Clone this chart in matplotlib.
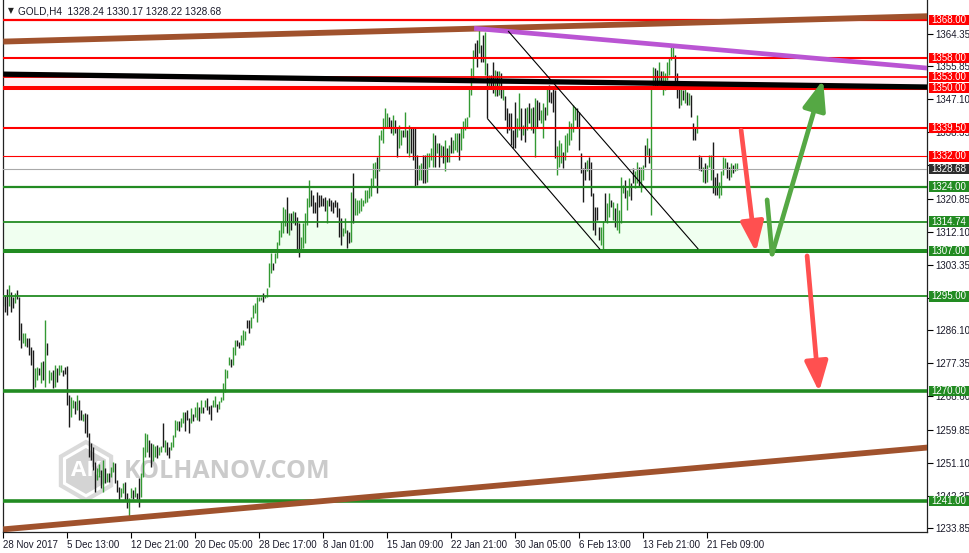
import matplotlib
matplotlib.use('Agg')
import matplotlib.pyplot as plt
from matplotlib.patches import Rectangle, Polygon
from matplotlib.transforms import blended_transform_factory
import numpy as np

plt.rcParams['font.family'] = ['Liberation Sans', 'DejaVu Sans']

# ---- data (GOLD, H4 bars) ----
bar_high = [
    1295.5, 1295.0, 1297.0, 1298.0, 1296.2, 1294.9, 1296.0, 1296.6, 1294.9, 1288.0,
    1285.3, 1285.3, 1284.0, 1284.0, 1281.7, 1280.9, 1276.1, 1276.4, 1276.0, 1277.7,
    1278.0, 1288.8, 1282.7, 1275.6, 1275.0, 1275.6, 1277.0, 1276.2, 1277.0, 1276.8,
    1275.6, 1276.4, 1276.6, 1269.0, 1268.5, 1267.7, 1267.5, 1269.0, 1267.7, 1265.0,
    1264.0, 1264.2, 1264.0, 1258.9, 1256.3, 1255.2, 1251.3, 1249.7, 1250.8, 1249.2,
    1251.8, 1249.7, 1248.3, 1248.3, 1250.0, 1251.3, 1251.0, 1246.5, 1244.7, 1244.4,
    1245.7, 1246.0, 1243.1, 1241.8, 1244.4, 1244.0, 1244.7, 1243.0, 1247.0, 1248.4,
    1255.2, 1258.9, 1258.6, 1257.1, 1256.3, 1256.0, 1255.6, 1255.8, 1255.2, 1255.6,
    1261.6, 1257.0, 1256.5, 1255.2, 1256.5, 1258.4, 1262.4, 1262.0, 1262.0, 1262.9,
    1264.5, 1264.5, 1265.0, 1262.9,
    1265.5, 1264.0, 1265.8, 1267.0, 1265.8, 1267.7, 1265.8, 1267.7, 1268.2, 1266.0,
    1266.3, 1267.7, 1268.7, 1266.5, 1267.5, 1268.4, 1272.1, 1275.8, 1275.5, 1279.0,
    1278.5, 1281.7, 1283.5, 1283.5, 1283.0, 1284.8, 1286.1, 1286.0, 1288.8, 1288.8,
    1289.6, 1292.7, 1293.3, 1294.9, 1294.9, 1294.8, 1295.9, 1295.5, 1297.2, 1303.8,
    1306.5, 1303.8, 1306.5, 1309.4, 1312.5, 1314.7, 1318.6, 1318.0, 1321.3, 1317.0,
    1317.0, 1317.5, 1317.2, 1316.0, 1314.4, 1310.7, 1314.4, 1317.0, 1321.0, 1325.7,
    1323.0, 1321.8, 1320.0, 1322.6, 1321.8, 1321.8, 1321.0, 1321.3, 1320.5, 1321.0,
    1320.5, 1320.0, 1320.5, 1320.0, 1318.4, 1315.7, 1313.0, 1315.7, 1312.5, 1312.0,
    1322.6, 1327.6, 1321.0, 1320.5, 1320.5, 1321.0, 1320.5, 1323.1, 1323.0, 1323.9,
    1326.2, 1330.2, 1330.6, 1331.9, 1337.6, 1339.0, 1342.0, 1344.7, 1343.4, 1342.5,
    1341.6, 1342.9, 1341.6, 1339.8, 1340.3, 1339.0, 1339.0, 1343.8, 1339.0, 1340.3,
    1339.8, 1339.4, 1339.4, 1332.4, 1329.7, 1330.2, 1332.4, 1332.4, 1332.8, 1332.8,
    1334.1, 1338.1, 1337.6, 1335.4, 1335.4, 1335.0, 1334.6, 1336.3, 1334.1, 1335.0,
    1337.2, 1336.3, 1338.1, 1338.1, 1338.1, 1339.4, 1341.2, 1342.0, 1342.5, 1350.4,
    1355.2, 1360.1, 1361.8, 1362.7, 1365.8, 1361.4, 1364.0, 1364.9, 1356.6, 1353.5,
    1353.5, 1357.0, 1354.8, 1354.4, 1354.4, 1353.9, 1350.4, 1347.8, 1344.7, 1343.4,
    1343.4, 1339.0, 1346.4, 1342.0, 1348.6, 1344.7, 1340.3, 1344.7, 1345.1, 1346.0,
    1344.7, 1345.1, 1347.3, 1346.9, 1346.4, 1344.2, 1346.0, 1345.1, 1350.4, 1350.8,
    1349.1, 1350.4, 1349.5, 1334.6, 1336.3,
    1335.4, 1333.2, 1337.6, 1338.1, 1341.2, 1340.7, 1345.6, 1345.1, 1344.7, 1343.8,
    1332.8, 1328.8, 1330.6, 1331.0, 1331.9, 1330.6, 1322.2, 1318.7, 1318.7, 1313.4,
    1313.4, 1314.8, 1322.2, 1319.6, 1322.2, 1320.5, 1320.0, 1318.3, 1319.6, 1317.8,
    1326.6, 1324.4, 1325.8, 1323.1, 1326.2, 1324.9, 1328.8, 1328.0, 1330.6, 1329.3,
    1329.3, 1329.7, 1335.0, 1336.8, 1334.1, 1350.4, 1355.7, 1355.2, 1354.8, 1357.0,
    1354.4, 1354.4, 1353.9, 1357.0, 1357.9, 1361.0, 1361.4, 1358.8, 1353.9, 1350.0,
    1351.3, 1349.5, 1350.0, 1349.1, 1348.6, 1348.2, 1340.7, 1339.8, 1342.9, 1332.4,
    1331.9, 1329.3, 1330.2, 1329.7, 1332.4, 1332.4, 1335.9, 1326.6, 1327.5, 1325.3,
    1328.0, 1331.9, 1331.5, 1330.6, 1329.3, 1330.2, 1329.7, 1330.2, 1330.2,
]
bar_low = [
    1292.5, 1291.0, 1290.0, 1292.5, 1290.8, 1291.9, 1293.3, 1294.4, 1283.5, 1281.4,
    1282.7, 1282.0, 1281.7, 1279.5, 1276.9, 1270.3, 1271.1, 1272.9, 1274.3, 1272.1,
    1273.0, 1271.1, 1279.5, 1272.1, 1273.0, 1270.8, 1271.0, 1272.3, 1274.3, 1275.0,
    1274.0, 1274.5, 1266.3, 1260.5, 1263.2, 1265.6, 1264.0, 1265.0, 1262.4, 1262.4,
    1262.0, 1258.9, 1257.9, 1252.6, 1251.8, 1249.2, 1243.4, 1246.5, 1247.2, 1244.4,
    1243.4, 1245.7, 1246.0, 1246.0, 1247.2, 1248.7, 1245.7, 1243.4, 1241.3, 1242.0,
    1243.1, 1241.3, 1239.1, 1236.0, 1241.8, 1241.5, 1242.1, 1241.5, 1239.4, 1242.1,
    1247.2, 1252.6, 1254.0, 1252.6, 1250.0, 1251.5, 1252.6, 1252.3, 1253.2, 1254.0,
    1255.2, 1254.0, 1253.2, 1252.3, 1254.5, 1255.2, 1257.9, 1259.7, 1259.4, 1260.5,
    1261.6, 1259.4, 1262.4, 1258.9,
    1261.6, 1262.0, 1263.2, 1262.4, 1262.0, 1264.2, 1264.2, 1265.8, 1265.0, 1264.0,
    1262.4, 1265.8, 1265.8, 1264.5, 1265.3, 1267.0, 1267.7, 1269.8, 1273.5, 1276.9,
    1276.4, 1276.9, 1279.5, 1282.0, 1281.3, 1282.2, 1282.2, 1283.5, 1286.7, 1285.3,
    1286.7, 1289.3, 1290.6, 1288.3, 1293.7, 1294.0, 1293.6, 1294.6, 1294.9, 1297.5,
    1301.2, 1302.0, 1303.8, 1305.2, 1308.6, 1310.7, 1311.8, 1313.5, 1311.8, 1311.2,
    1312.5, 1314.5, 1313.8, 1307.3, 1305.4, 1306.8, 1307.8, 1309.1, 1313.9, 1318.6,
    1319.0, 1317.0, 1317.0, 1313.3, 1318.6, 1319.0, 1319.0, 1317.5, 1314.4, 1319.0,
    1317.5, 1317.0, 1318.5, 1316.0, 1310.7, 1308.6, 1311.0, 1311.8, 1307.8, 1309.2,
    1309.4, 1314.4, 1316.5, 1316.5, 1317.0, 1317.5, 1319.0, 1319.7, 1320.0, 1321.0,
    1321.4, 1324.0, 1326.2, 1322.2, 1328.0, 1336.3, 1335.4, 1339.8, 1339.4, 1339.8,
    1338.1, 1337.6, 1338.1, 1331.9, 1334.1, 1335.0, 1337.2, 1337.2, 1332.8, 1331.9,
    1332.8, 1331.0, 1324.0, 1324.4, 1325.8, 1325.8, 1324.9, 1324.9, 1325.3, 1329.3,
    1331.0, 1329.3, 1329.3, 1332.8, 1329.3, 1331.9, 1330.2, 1328.0, 1330.6, 1330.6,
    1332.8, 1332.8, 1333.7, 1333.2, 1331.0, 1333.7, 1336.8, 1339.0, 1339.4, 1342.5,
    1348.2, 1351.7, 1357.9, 1355.7, 1359.2, 1357.0, 1357.0, 1353.5, 1342.0, 1350.4,
    1350.0, 1348.6, 1347.8, 1347.8, 1348.2, 1347.3, 1346.9, 1341.6, 1338.1, 1339.0,
    1335.0, 1334.1, 1334.1, 1337.2, 1339.0, 1336.3, 1337.6, 1335.9, 1339.0, 1340.7,
    1339.0, 1338.1, 1331.9, 1339.8, 1341.6, 1340.7, 1336.8, 1341.6, 1342.9, 1346.4,
    1346.0, 1343.8, 1331.5, 1327.1, 1329.3,
    1330.2, 1328.8, 1331.0, 1333.2, 1335.0, 1336.3, 1338.5, 1341.6, 1339.8, 1333.7,
    1327.5, 1320.0, 1325.8, 1328.0, 1325.8, 1321.4, 1312.6, 1311.2, 1315.2, 1309.9,
    1308.6, 1307.3, 1314.8, 1314.3, 1316.1, 1318.7, 1315.2, 1313.4, 1312.6, 1311.7,
    1314.3, 1322.2, 1320.9, 1317.8, 1321.4, 1320.5, 1324.9, 1323.6, 1324.9, 1324.0,
    1322.7, 1325.8, 1329.3, 1332.4, 1330.2, 1316.5, 1350.4, 1350.0, 1350.0, 1351.3,
    1351.3, 1348.2, 1349.5, 1352.2, 1353.5, 1357.4, 1357.9, 1351.3, 1347.3, 1344.7,
    1345.6, 1346.9, 1346.0, 1345.6, 1345.6, 1342.5, 1336.3, 1336.3, 1338.1, 1328.4,
    1328.0, 1325.3, 1324.9, 1325.3, 1329.3, 1325.8, 1322.2, 1321.8, 1321.8, 1320.9,
    1321.8, 1327.1, 1328.8, 1326.2, 1325.8, 1326.6, 1327.5, 1328.0, 1328.4,
]
# g = bull bar, k = bear bar
bar_dir = ''.join([
    "gkkgkkgkkk", "ggkkkkggkg", "kgkggkgkgg", "kkkkggkgkk", "gkkkkkkggk",
    "gkgkggkkkg", "gkkggkgkkg", "gggkkggkgg", "kgkkggggkg", "gkkk",
    "gkggkgkgkk", "kggkgggggg", "kggkkgggkk", "ggggggkggg", "gkggggggkg",
    "kgkkkggggg", "kkkkkkkkgk", "kkkkkkggkk", "gkgggggggg",
    "gggkgggggk", "kgkkggkgkg", "kkkkggkkgg", "ggkgkgkgkg", "kgggkggggg",
    "ggkkgkkgkg", "kkgkgkgkkk", "kkkggkgkgk", "gkgkkggkgk", "kkkgg",
    "gkggggggkk", "kkkgkkkkkk", "ggkggkgkgg", "ggkggkkggk", "ggkgkggkkg",
    "kggggggkkk", "gkgkgkkkgk", "kgkgggkkkg", "gggkkgkgg",
])

date_labels = ['28 Nov 2017', '5 Dec 13:00', '12 Dec 21:00', '20 Dec 05:00',
               '28 Dec 17:00', '8 Jan 01:00', '15 Jan 09:00', '22 Jan 21:00',
               '30 Jan 05:00', '6 Feb 13:00', '13 Feb 21:00', '21 Feb 09:00']
date_ticks = [0, 32, 64, 96, 128, 160, 192, 224, 256, 288, 320, 352]

price_ticks = [1364.35, 1355.85, 1347.10, 1338.35, 1329.60, 1320.85, 1312.10, 1303.35,
               1294.60, 1286.10, 1277.35, 1268.60, 1259.85, 1251.10, 1242.35, 1233.85]
# these two scale values sit fully under the level tags in the reference
hidden_ticks = [1329.60, 1294.60]

resistance_levels = [1368.00, 1358.00, 1353.00, 1350.00, 1339.50, 1332.00]
support_levels = [1324.00, 1314.74, 1307.00, 1295.00, 1270.00, 1241.00]
last_price = 1328.68
support_zone = (1307.00, 1314.74)
resistance_zone = (1350.00, 1353.00)

# trend lines: (bar, price) end points
upper_trend = [(0, 1362.3), (462, 1369.0)]
lower_trend = [(0, 1233.5), (462, 1255.1)]
black_trend = [(0, 1353.7), (462, 1350.3)]
purple_trend = [(235.4, 1365.8), (462, 1355.3)]
channel_top = [(252.4, 1365.1), (347.5, 1307.5)]
channel_bottom = [(242.0, 1342.0), (298.4, 1307.4)]

# projected moves
red_arrow_1 = [(368.9, 1338.9), (376.3, 1306.7)]
green_path = [(381.9, 1320.5), (384.4, 1306.2), (409.9, 1352.2)]
red_arrow_2 = [(401.9, 1305.7), (407.9, 1269.8)]

# ---- figure ----
W, H = 970, 553
fig = plt.figure(figsize=(W / 100, H / 100), dpi=100)
ax = fig.add_axes([3 / W, 21 / H, 924 / W, 532 / H])
ax.set_xlim(-0.15, 461.85)
ax.set_ylim(1232.8, 1373.28)

RED = '#FF0000'
GREEN = '#228B22'

ax.axhspan(*support_zone, color='#F0FFF0', lw=0, zorder=0.2)
ax.axhspan(*resistance_zone, color='#FFF0F5', lw=0, zorder=0.2)

# watermark
hx, hy = 86, 471
ang = np.deg2rad(90 + 60 * np.arange(6))
outer = np.column_stack([(hx + 29 * np.cos(ang)) / W, 1 - (hy - 29 * np.sin(ang)) / H])
inner = np.column_stack([(hx + 23 * np.cos(ang)) / W, 1 - (hy - 23 * np.sin(ang)) / H])
ax.add_patch(Polygon(outer, closed=True, fill=False, ec='#DADADA', lw=3,
                     transform=fig.transFigure, zorder=0.3))
ax.add_patch(Polygon(inner, closed=True, fc='#D4D4D4', ec='none',
                     transform=fig.transFigure, zorder=0.3))
ax.text(hx / W, 1 - hy / H, 'AK', transform=fig.transFigure, color='white',
        fontsize=16, fontweight='bold', family='Open Sans', ha='center', va='center', zorder=0.4)
ax.text(124 / W, 1 - 471 / H, 'KOLHANOV.COM', transform=fig.transFigure, color='#CBCBCB',
        fontsize=18, fontweight='bold', family='Open Sans', ha='left', va='center', zorder=0.4)

# bars
hi = np.array(bar_high)
lo = np.array(bar_low)
x = np.arange(len(hi))
up = np.array([c == 'g' for c in bar_dir[:len(hi)]])
ax.vlines(x[up], lo[up], hi[up], color='#339933', lw=1.0, zorder=2)
ax.vlines(x[~up], lo[~up], hi[~up], color='#1A1A1A', lw=1.0, zorder=2)

# horizontal levels
res_width = {1368.00: 1.6, 1358.00: 1.5, 1353.00: 1.3, 1350.00: 2.9, 1339.50: 1.5, 1332.00: 0.8}
sup_width = {1324.00: 1.6, 1314.74: 1.3, 1307.00: 2.9, 1295.00: 1.3, 1270.00: 2.6, 1241.00: 2.6}
for p in resistance_levels:
    ax.axhline(p, color=RED, lw=res_width[p], zorder=3)
for p in support_levels:
    ax.axhline(p, color=GREEN, lw=sup_width[p], zorder=3)
ax.axhline(last_price, color='#A9A9A9', lw=0.8, zorder=3)

# trend lines
def seg(pts, **kw):
    xs, ys = zip(*pts)
    ax.plot(xs, ys, solid_capstyle='butt', **kw)

seg(upper_trend, color='#A0522D', lw=4.2, zorder=3.5)
seg(lower_trend, color='#A0522D', lw=4.2, zorder=3.5)
seg(black_trend, color='#000000', lw=3.8, zorder=3.4)
seg(purple_trend, color='#BA55D3', lw=3.4, zorder=3.5)
seg(channel_top, color='black', lw=0.8, zorder=3.6)
seg(channel_bottom, color='black', lw=0.8, zorder=3.6)

# arrows
def arrow(p0, p1, color):
    ax.annotate('', xy=p1, xytext=p0,
                arrowprops=dict(arrowstyle='-|>,head_length=1.3,head_width=0.5',
                                color=color, lw=3.4, mutation_scale=14,
                                shrinkA=0, shrinkB=0, capstyle='round'),
                zorder=5)

arrow(*red_arrow_1, '#FF5050')
arrow(*red_arrow_2, '#FF5050')
gx, gy = zip(*green_path[:2])
ax.plot(gx, gy, color='#55A844', lw=3.4, solid_capstyle='round', zorder=5)
arrow(green_path[1], green_path[2], '#55A844')

# axes styling
ax.spines['top'].set_visible(False)
for s in ['left', 'right', 'bottom']:
    ax.spines[s].set_linewidth(0.9)
    ax.spines[s].set_color('#222222')

ax.yaxis.tick_right()
ax.set_yticks(price_ticks)
ax.set_yticklabels(['' if v in hidden_ticks else '%.2f' % v for v in price_ticks])
ax.tick_params(axis='y', direction='out', length=4, width=0.8, pad=2,
               labelsize=7, labelcolor='#1A1A2A')
ax.set_xticks(date_ticks)
ax.set_xticklabels(date_labels)
ax.tick_params(axis='x', direction='out', length=4, width=0.8, pad=2,
               labelsize=7, labelcolor='#1A1A2A')
for lab in ax.get_xticklabels():
    lab.set_ha('left')

# price labels on the right scale
blend = blended_transform_factory(fig.transFigure, ax.transData)
box_h = 10.5 / 3.787

def price_box(p, color):
    ax.add_patch(Rectangle((929 / W, p - box_h / 2), 40 / W, box_h, transform=blend,
                           fc=color, ec='none', clip_on=False, zorder=10))
    ax.text(949 / W, p, '%.2f' % p, transform=blend, color='white', fontsize=7,
            ha='center', va='center', clip_on=False, zorder=11)

for p in resistance_levels:
    price_box(p, RED)
for p in support_levels:
    price_box(p, GREEN)
price_box(last_price, '#2E2E2E')

# header
fig.text(8 / W, 1 - 11 / H, '\u25bc', fontsize=5.5, color='#222222', va='center',
         family=['DejaVu Sans'])
fig.text(18 / W, 1 - 11 / H, 'GOLD,H4  1328.24 1330.17 1328.22 1328.68',
         fontsize=7.2, color='#1A1A2A', va='center')

fig.savefig('out.png', dpi=100, facecolor='white')
